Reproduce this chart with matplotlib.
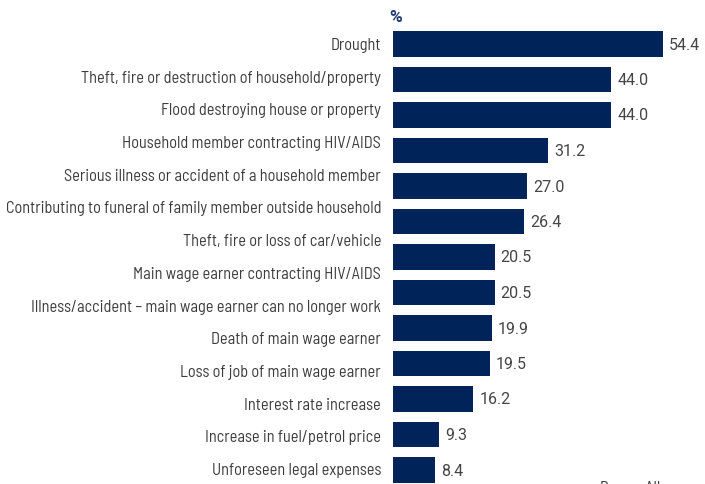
import matplotlib
matplotlib.use("Agg")
import matplotlib.pyplot as plt

categories = [
    "Drought",
    "Theft, fire or destruction of household/property",
    "Flood destroying house or property",
    "Household member contracting HIV/AIDS",
    "Serious illness or accident of a household member",
    "Contributing to funeral of family member outside household",
    "Theft, fire or loss of car/vehicle",
    "Main wage earner contracting HIV/AIDS",
    "Illness/accident \u2013 main wage earner can no longer work",
    "Death of main wage earner",
    "Loss of job of main wage earner",
    "Interest rate increase",
    "Increase in fuel/petrol price",
    "Unforeseen legal expenses",
]
values = [54.4, 44.0, 44.0, 31.2, 27.0, 26.4, 20.5, 20.5, 19.9, 19.5, 16.2, 9.3, 8.4]

BAR_COLOR = "#00235a"
TEXT_COLOR = "#3c3c3c"
plt.rcParams["font.family"] = ["Barlow Semi Condensed", "DejaVu Sans"]

W, H = 705, 485
fig = plt.figure(figsize=(W / 100, H / 100), dpi=100)

# size the labels so the longest one spans the space left of the bars
renderer = fig.canvas.get_renderer()
probe = fig.text(0, 0, max(categories, key=len), fontsize=10)
width_px = probe.get_window_extent(renderer).width
probe.remove()
label_size = 10 * 376 / width_px

top_px = 27.25
ax = fig.add_axes([393 / W, 0, 1 - 393 / W, 1 - top_px / H])
ax.barh(range(len(values)), values, height=0.73, color=BAR_COLOR)
ax.set_xlim(0, 312 / 4.963)
ax.set_ylim(12 + (485 - 471) / 35.5, -0.5)
for i, v in enumerate(values):
    ax.text(v + 1.2, i, f"{v:.1f}", va="center", ha="left",
            fontsize=11.5, color="#454545", family=["Roboto", "DejaVu Sans"])
ax.set_xticks([])
ax.set_yticks([])
for s in ax.spines.values():
    s.set_visible(False)

# category labels on their own axis
ax2 = ax.twinx()
ax2.yaxis.tick_left()
ax2.set_ylim(13 + (485 - 469) / 32.69, -(44 - top_px) / 32.69)
ax2.set_yticks(range(len(categories)))
ax2.set_yticklabels(categories, fontsize=label_size, color=TEXT_COLOR)
ax2.tick_params(axis="y", length=0, pad=8.6)
for s in ax2.spines.values():
    s.set_visible(False)

fig.text(389 / W, 1 - 17 / H, "%", fontsize=12.5, fontweight="bold",
         color="#1f3a6e", va="center", ha="left", family=["Roboto", "DejaVu Sans"])
fig.text(600 / W, 1 - 481 / H, "Base = All", fontsize=label_size,
         color=TEXT_COLOR, va="top", ha="left")

fig.savefig("out.png", dpi=100)
